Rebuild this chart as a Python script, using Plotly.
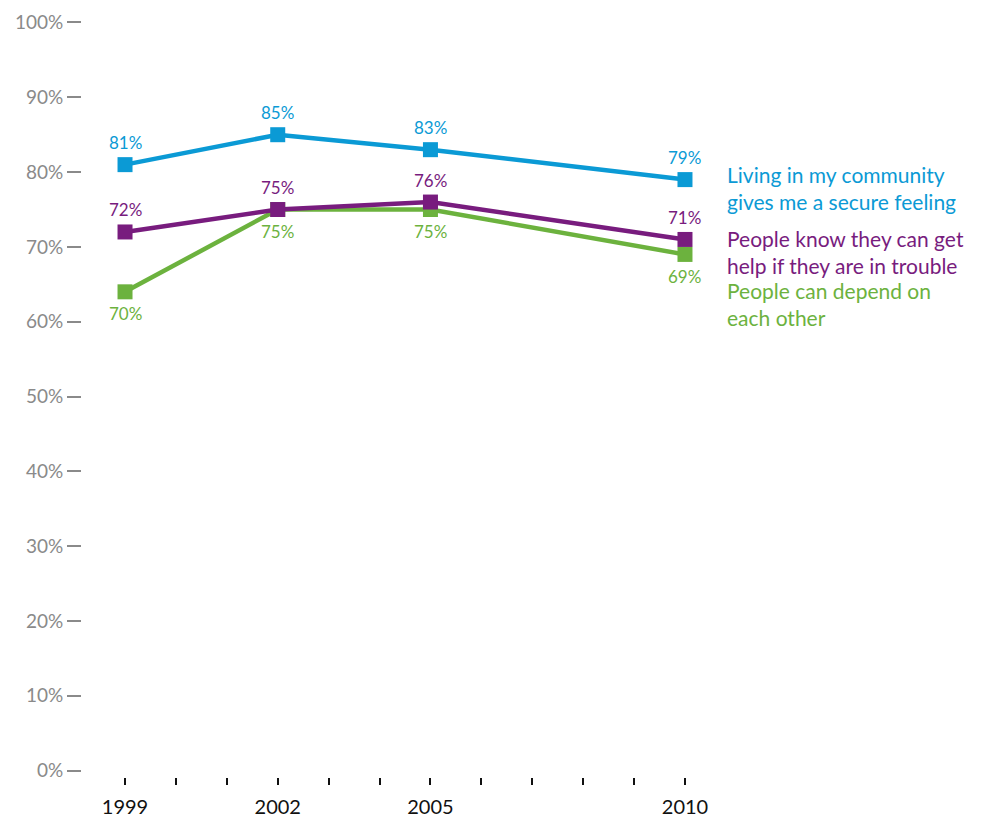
import plotly.graph_objects as go

years = [1999, 2002, 2005, 2010]
secure = [81, 85, 83, 79]
help_ = [72, 75, 76, 71]
depend = [64, 75, 75, 69]
secure_labels = ["81%", "85%", "83%", "79%"]
help_labels = ["72%", "75%", "76%", "71%"]
depend_labels = ["70%", "75%", "75%", "69%"]
all_years = list(range(1999, 2011))
x_ticktext = [str(y) if y in years else "" for y in all_years]
y_ticks = list(range(0, 101, 10))
y_ticktext = [f"{v}%" for v in y_ticks]

BLUE = "#0b9ad5"
PURPLE = "#781c7e"
GREEN = "#6cb23e"
FONT = "Lato, sans-serif"

fig = go.Figure()
series = [
    ("depend", depend, depend_labels, GREEN, -22),
    ("help", help_, help_labels, PURPLE, 22),
    ("secure", secure, secure_labels, BLUE, 22),
]
for name, vals, labs, col, shift in series:
    fig.add_trace(go.Scatter(
        x=years, y=vals, mode="lines+markers", name=name,
        line=dict(color=col, width=4.5),
        marker=dict(symbol="square", size=15, color=col),
        showlegend=False, hoverinfo="skip",
    ))
    for x, y, t in zip(years, vals, labs):
        fig.add_annotation(x=x, y=y, text=t, showarrow=False, yshift=shift,
                           font=dict(family=FONT, size=17, color=col))

PLOT_TOP = 17.5
PLOT_BOTTOM = 777.5
PLOT_H = PLOT_BOTTOM - PLOT_TOP

legend_items = [
    ("Living in my community<br>gives me a secure feeling", BLUE, 188),
    ("People know they can get<br>help if they are in trouble", PURPLE, 252),
    ("People can depend on<br>each other", GREEN, 304),
]
for txt, col, ypx in legend_items:
    fig.add_annotation(xref="paper", yref="paper", x=(725 - 82) / 638,
                       y=(PLOT_BOTTOM - ypx) / PLOT_H, text=txt, showarrow=False,
                       xanchor="left", yanchor="middle", align="left",
                       font=dict(family=FONT, size=21, color=col))

fig.update_layout(
    width=992, height=821,
    margin=dict(l=82, r=992 - 720, t=PLOT_TOP, b=821 - PLOT_BOTTOM, autoexpand=False),
    paper_bgcolor="white", plot_bgcolor="white",
    font=dict(family=FONT),
    xaxis=dict(range=[1998.155, 2010.688], tickvals=all_years, ticktext=x_ticktext,
               ticks="outside", ticklen=7, tickwidth=2, tickcolor="#111111",
               ticklabelstandoff=5,
               showgrid=False, zeroline=False, showline=False, automargin=False,
               tickfont=dict(family=FONT, size=20, color="#111111")),
    yaxis=dict(range=[-0.85, 100.6], tickvals=y_ticks, ticktext=y_ticktext,
               ticks="outside", ticklen=14, tickwidth=2, tickcolor="#8a8a8a",
               showgrid=False, zeroline=False, showline=False, automargin=False,
               tickfont=dict(family=FONT, size=19, color="#8a8a8a")),
)

fig.write_html("out.html")
